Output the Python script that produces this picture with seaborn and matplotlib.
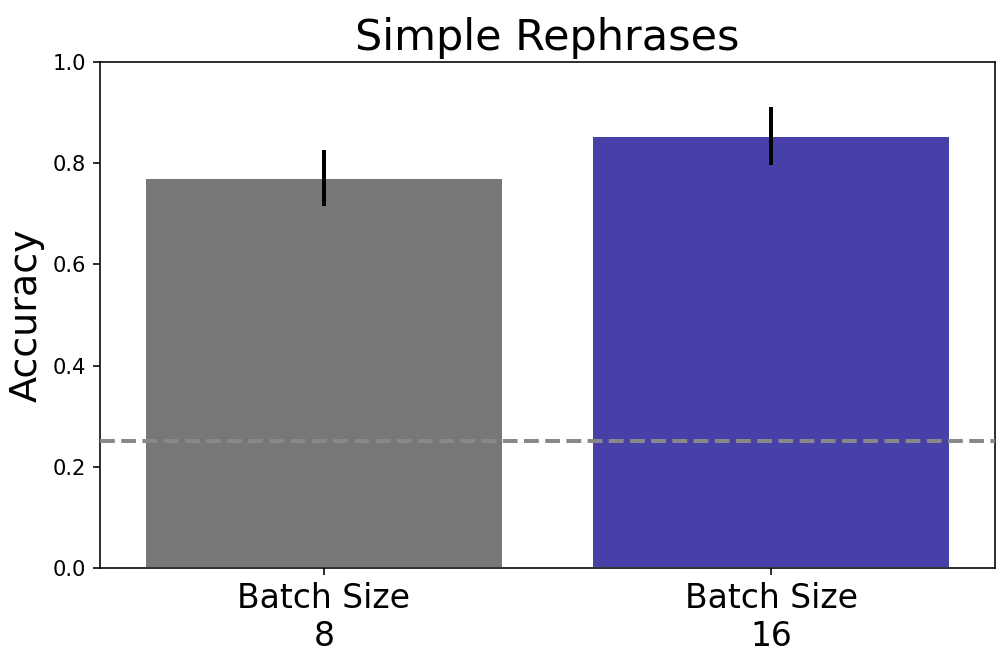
import numpy as np
import pandas as pd
import matplotlib
matplotlib.use("Agg")
import matplotlib.pyplot as plt
import seaborn as sns

# Data
labels = ["Batch Size\n8", "Batch Size\n16"]
accuracy = [0.771, 0.854]
err = [0.056, 0.057]
colors = ["#777777", "#4640A8"]
chance = 0.25

sns.set_style("ticks", {"axes.edgecolor": "black", "text.color": "black",
                        "xtick.color": "black", "ytick.color": "black",
                        "axes.labelcolor": "black"})
plt.rcParams["font.family"] = ["DejaVu Sans"]
plt.rcParams["xtick.major.size"] = 3.5
plt.rcParams["ytick.major.size"] = 3.5
plt.rcParams["axes.linewidth"] = 0.8

df = pd.DataFrame({"label": labels, "acc": accuracy})

fig = plt.figure(figsize=(997 / 144, 663 / 144), dpi=144)
ax = fig.add_axes([0.1003, 0.1433, 0.8977, 0.7632])

sns.barplot(data=df, x="label", y="acc", hue="label", palette=colors,
            legend=False, width=0.8, saturation=1, ax=ax)
ax.errorbar(x=np.arange(len(labels)), y=accuracy, yerr=err, fmt="none",
            ecolor="black", elinewidth=2, capsize=0, zorder=5)
ax.axhline(chance, color="#888888", linestyle="--", linewidth=2, zorder=6)

ax.set_ylim(0, 1.0)
ax.set_xlim(-0.5, 1.5)
ax.set_yticks([0.0, 0.2, 0.4, 0.6, 0.8, 1.0])
ax.tick_params(axis="y", labelsize=10.5)
ax.tick_params(axis="x", labelsize=16.5)
ax.set_xlabel("")
ax.set_ylabel("Accuracy", fontsize=19)
ax.set_title("Simple Rephrases", fontsize=21.5)
for s in ax.spines.values():
    s.set_visible(True)
    s.set_color("black")

fig.savefig("out.png", dpi=144)
